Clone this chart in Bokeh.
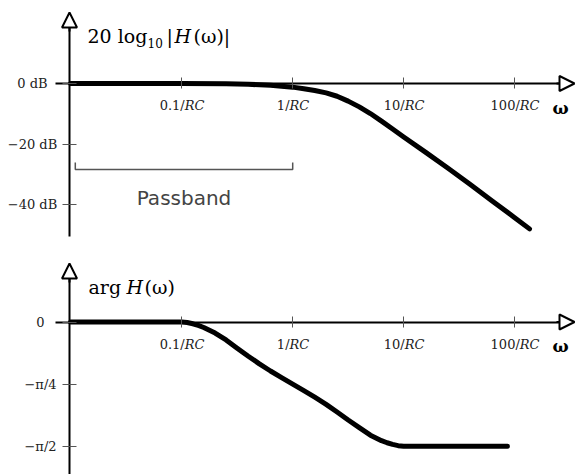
import math
from bokeh.plotting import figure
from bokeh.models import (Range1d, LogScale, LogAxis, LinearAxis, FixedTicker, Arrow,
                          NormalHead, Label, ColumnDataSource, CustomJSTickFormatter)
from bokeh.layouts import column
from bokeh.embed import file_html
from bokeh.resources import INLINE
from bokeh.core.properties import value

# ---------------- data ----------------
mag_w = [0.01, 0.1, 0.251, 0.398, 0.631, 1.0, 1.26, 1.58, 2.0, 2.51, 3.16, 3.98, 5.01,
         6.31, 7.94, 10, 15.8, 25.1, 39.8, 63.1, 100, 136]
mag_db = [0, 0, -0.1, -0.25, -0.6, -1.2, -1.7, -2.3, -3.1, -4.2, -5.8, -7.7, -9.9,
          -12.4, -15.0, -17.6, -22.7, -27.9, -33.3, -38.8, -44.2, -47.9]
phase_w = [0.01, 0.1, 0.112, 0.126, 0.141, 0.158, 0.2, 0.251, 0.316, 0.398, 0.501, 0.631,
           0.794, 1.0, 1.26, 1.58, 2.0, 2.51, 3.16, 3.98, 5.01, 6.31, 7.08, 7.94, 8.91, 10, 86]
phase_deg = [0, 0, -0.4, -1.3, -2.5, -4, -8, -13, -19, -24.8, -30.3, -35.5,
             -40.3, -45, -49.7, -54.5, -59.7, -65.2, -71, -76.5, -82, -86, -87.5, -88.7, -89.6, -90, -90]
x_ticks = [0.1, 1, 10, 100]
x_tick_prefix = ["0.1/", "1/", "10/", "100/"]
x_tick_suffix = "RC"
mag_ticks = [0, -20, -40]
mag_tick_labels = ["0 dB", "−20 dB", "−40 dB"]
phase_ticks = [0, -45, -90]
phase_tick_labels = ["0", "−π/4", "−π/2"]
passband = [0.011, 1.0]

# ---------------- layout helpers (page pixel -> data) ----------------
X0, DEC = 181.2, 111.0
def wx(px):
    return 10 ** ((px - X0) / DEC - 1)
def ty(py):
    return (83 - py) / 3.035
def by(py):
    return (321.5 - py) / 1.38

SERIF = "DejaVu Serif"
TICK_COLOR = "#555555"
TEXT_COLOR = "#222222"

def make_fig(h, y0, y1):
    p = figure(width=575, height=h, x_range=Range1d(wx(0), wx(575)), y_range=Range1d(y0, y1),
               x_axis_type=None, y_axis_type=None, output_backend="svg",
               toolbar_location=None, min_border=0)
    p.x_scale = LogScale()
    p.outline_line_color = None
    p.background_fill_color = "white"
    p.border_fill_color = "white"
    return p

def char_w(s):
    return sum({".": 4.13, "/": 4.38}.get(c, 8.27) for c in s)

def add_axes(p, yfun, axis_px, yticks, ylabels, ylabel_cx, ylo_px, ytop_px, arrow_tip_px):
    xa = LogAxis(fixed_location=0, ticker=FixedTicker(ticks=x_ticks),
                 bounds=(wx(55), wx(562)),
                 axis_line_width=2, axis_line_color="black",
                 major_tick_in=6, major_tick_out=5,
                 major_tick_line_color=TICK_COLOR, major_tick_line_width=1,
                 minor_tick_line_color=None,
                 formatter=CustomJSTickFormatter(code="return ''"),
                 major_label_text_font_size="0px")
    p.add_layout(xa, "below")
    ya = LinearAxis(fixed_location=wx(69), ticker=FixedTicker(ticks=yticks),
                    bounds=(yfun(ylo_px), yfun(ytop_px)),
                    axis_line_width=2, axis_line_color="black",
                    major_tick_in=7, major_tick_out=7,
                    major_tick_line_color=TICK_COLOR, major_tick_line_width=1,
                    minor_tick_line_color=None,
                    formatter=CustomJSTickFormatter(code="return ''"),
                    major_label_text_font_size="0px")
    p.add_layout(ya, "left")
    # y tick labels, centred as in the reference
    ysrc = ColumnDataSource(dict(y=yticks, t=ylabels, x=[wx(ylabel_cx)] * len(yticks)))
    p.text(x="x", y="y", text="t", source=ysrc, text_font=value(SERIF),
           text_font_size="13px", text_align="center", text_baseline="middle",
           text_color=TEXT_COLOR)
    head = dict(size=15, fill_color="white", line_color="black", line_width=2)
    p.add_layout(Arrow(end=NormalHead(**head), x_start=wx(556), y_start=0,
                       x_end=wx(574), y_end=0, line_width=2, line_color="black"))
    p.add_layout(Arrow(end=NormalHead(**head), x_start=wx(69), y_start=yfun(ytop_px + 4),
                       x_end=wx(69), y_end=yfun(arrow_tip_px), line_width=2, line_color="black"))
    # x tick labels: "0.1/" upright + "RC" italic
    offs = [(char_w(s) - 19) / 2 for s in x_tick_prefix]
    src = ColumnDataSource(dict(x=x_ticks, pre=x_tick_prefix,
                                suf=[x_tick_suffix] * len(x_ticks), off=offs))
    yl = yfun(axis_px + 22)
    p.text(x="x", y=yl, text="pre", x_offset="off", source=src, text_font=value(SERIF),
           text_font_size="13px", text_align="right", text_baseline="alphabetic",
           text_color=TEXT_COLOR)
    p.text(x="x", y=yl, text="suf", x_offset="off", source=src, text_font=value(SERIF),
           text_font_style="italic", text_font_size="13px", text_align="left",
           text_baseline="alphabetic", text_color=TEXT_COLOR)
    p.add_layout(Label(x=wx(560), y=yfun(axis_px + 24), text="ω",
                       text_font=SERIF, text_font_size="17px", text_font_style="bold",
                       text_align="center", text_baseline="alphabetic", text_color="black"))

def lab(p, px, y, text, size="19px", style="normal"):
    p.add_layout(Label(x=wx(px), y=y, text=text, text_font=SERIF, text_font_size=size,
                       text_font_style=style, text_align="left", text_baseline="alphabetic",
                       text_color="black"))

# ---------------- magnitude panel ----------------
p1 = make_fig(246, ty(246), ty(0))
p1.line(mag_w, mag_db, line_width=5, line_color="black", line_cap="round", line_join="round")
add_axes(p1, ty, 83, mag_ticks, mag_tick_labels, 32, 236, 27, 12)

p1.line(x=[passband[0], passband[0], passband[1], passband[1]],
        y=[ty(162), ty(169), ty(169), ty(162)], line_color="#555555", line_width=1.5)
mid = 10 ** ((math.log10(passband[0]) + math.log10(passband[1])) / 2)
p1.add_layout(Label(x=mid, y=ty(197), text="Passband", text_font="DejaVu Sans",
                    text_font_size="20px", text_align="center", text_baseline="alphabetic",
                    text_color="#444444"))

lab(p1, 87, ty(35), "20 log")
lab(p1, 147, ty(42), "10", size="12px")
lab(p1, 166, ty(35), "|")
lab(p1, 174, ty(35), "H", style="italic")
lab(p1, 193, ty(35), "(ω)|")

# ---------------- phase panel ----------------
p2 = make_fig(228, by(474), by(246))
p2.line(phase_w, phase_deg, line_width=5, line_color="black", line_cap="round", line_join="round")
add_axes(p2, by, 321.5, phase_ticks, phase_tick_labels, 40, 474, 278, 263)

lab(p2, 88, by(286), "arg ")
lab(p2, 126, by(286), "H", style="italic")
lab(p2, 144, by(286), "(ω)")

layout = column(p1, p2)
open("out.html", "w").write(file_html(layout, INLINE))
